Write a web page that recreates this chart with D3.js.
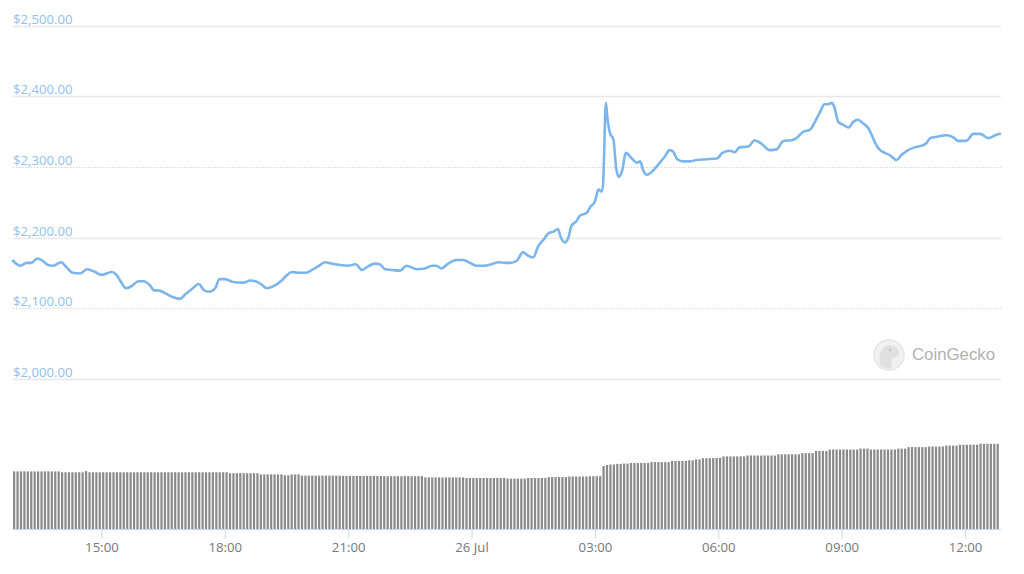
<!DOCTYPE html>
<html>
<head>
<meta charset="utf-8">
<script src="https://cdn.jsdelivr.net/npm/d3@7/dist/d3.min.js"></script>
<style>
  html, body { margin: 0; padding: 0; background: #ffffff; }
  svg { display: block; }
</style>
</head>
<body>
<svg id="chart" width="1024" height="574"></svg>
<script>
// ---- DATA ----
// Minutes since 25 Jul 12:51 for each sampled price point
const priceMinutes = [
  0, 11, 20, 27, 35, 42, 51, 59, 70, 78, 87, 98, 108, 120, 129, 144, 151, 157, 165, 173,
  183, 191, 199, 206, 212, 222, 232, 244, 251, 261, 271, 278, 286, 295, 301, 309, 321, 336, 346, 356,
  363, 370, 380, 392, 399, 407, 416, 428, 436, 445, 455, 465, 477, 489, 500, 509, 518, 528, 535, 543,
  552, 565, 574, 589, 601, 611, 618, 625, 635, 647, 657, 667, 676, 686, 698, 708, 718, 725, 735, 744,
  752, 759, 766, 774, 783, 788, 795, 799, 805, 810, 815, 822, 827, 837, 842, 849, 854, 859, 861, 865,
  867, 871, 876, 880, 884, 889, 894, 903, 910, 915, 920, 925, 934, 941, 951, 958, 963, 969, 978, 988,
  997, 1012, 1027, 1035, 1046, 1053, 1060, 1073, 1082, 1092, 1104, 1114, 1124, 1136, 1143, 1153, 1163, 1170, 1177, 1184,
  1189, 1194, 1198, 1204, 1211, 1219, 1226, 1233, 1240, 1248, 1253, 1258, 1265, 1272, 1279, 1289, 1296, 1306, 1316, 1328,
  1333, 1338, 1348, 1362, 1372, 1379, 1391, 1401, 1411, 1423, 1433, 1440
];
// Price in USD
const priceValues = [
  2167, 2160, 2164, 2164, 2170, 2168, 2161, 2160, 2165, 2158, 2150, 2149, 2155, 2151, 2147, 2151, 2147, 2138, 2128, 2131,
  2138, 2138, 2133, 2125, 2125, 2121, 2116, 2113, 2119, 2127, 2134, 2126, 2123, 2128, 2141, 2141, 2137, 2136, 2139, 2137,
  2133, 2128, 2131, 2139, 2146, 2151, 2150, 2150, 2154, 2159, 2165, 2163, 2161, 2160, 2162, 2154, 2159, 2163, 2162, 2155,
  2154, 2153, 2160, 2155, 2156, 2160, 2160, 2156, 2163, 2168, 2168, 2164, 2160, 2160, 2162, 2165, 2164, 2164, 2167, 2179,
  2174, 2172, 2187, 2197, 2207, 2208, 2212, 2201, 2193, 2199, 2217, 2223, 2231, 2235, 2243, 2251, 2268, 2265, 2277, 2391,
  2371, 2348, 2339, 2298, 2286, 2296, 2320, 2312, 2306, 2308, 2294, 2289, 2295, 2303, 2315, 2324, 2322, 2311, 2308, 2308,
  2310, 2311, 2312, 2320, 2323, 2321, 2328, 2329, 2338, 2333, 2324, 2325, 2337, 2338, 2341, 2350, 2353, 2364, 2377, 2389,
  2389, 2391, 2386, 2364, 2360, 2356, 2364, 2367, 2362, 2355, 2345, 2334, 2324, 2320, 2317, 2310, 2317, 2324, 2328, 2331,
  2334, 2341, 2343, 2345, 2342, 2337, 2337, 2347, 2347, 2341, 2345, 2347
];
// 24h volume (USD billions), one bar per 5 minutes, 12 per row = 1 hour per row
const volumeValues = [
  19.2, 19.2, 19.2, 19.2, 19.2, 19.2, 19.2, 19.2, 19.2, 19.2, 19.2, 19.2,
  19.2, 19.2, 18.9, 18.9, 18.9, 18.9, 18.9, 18.9, 18.9, 19.3, 18.9, 18.9,
  18.9, 18.9, 18.9, 18.9, 18.9, 18.9, 18.9, 18.9, 18.9, 18.9, 18.9, 18.9,
  18.9, 18.9, 18.9, 18.9, 18.9, 18.9, 18.9, 18.9, 18.9, 18.9, 18.9, 18.9,
  18.9, 18.9, 18.9, 18.9, 18.9, 18.9, 18.9, 18.9, 18.9, 18.9, 18.9, 18.9,
  18.9, 18.9, 18.9, 18.6, 18.6, 18.6, 18.6, 18.6, 18.6, 18.6, 18.6, 18.6,
  18.2, 18.2, 18.2, 18.2, 18.2, 18.2, 18.2, 17.9, 17.9, 18.2, 18.2, 18.2,
  17.8, 17.8, 17.8, 17.8, 17.8, 17.8, 17.8, 17.8, 17.8, 17.8, 17.8, 17.8,
  17.7, 17.7, 17.7, 17.7, 17.7, 17.7, 17.7, 17.7, 17.7, 17.7, 17.7, 17.7,
  17.6, 17.6, 17.6, 17.6, 17.6, 17.6, 17.6, 17.6, 17.6, 17.6, 17.6, 17.6,
  17.2, 17.2, 17.2, 17.2, 17.2, 17.2, 17.2, 17.2, 17.2, 17.2, 17.2, 17.2,
  17.0, 17.0, 17.0, 17.0, 17.0, 17.0, 17.0, 17.0, 17.0, 17.0, 17.0, 17.0,
  16.8, 16.8, 16.8, 16.8, 16.8, 16.8, 17.0, 17.0, 17.0, 17.0, 17.0, 17.0,
  17.3, 17.3, 17.3, 17.3, 17.3, 17.3, 17.5, 17.5, 17.5, 17.5, 17.5, 17.5,
  17.6, 17.6, 17.6, 17.6, 21.0, 21.3, 21.5, 21.5, 21.7, 21.7, 21.8, 21.8,
  22.0, 22.0, 22.0, 22.0, 22.0, 22.0, 22.3, 22.3, 22.3, 22.3, 22.3, 22.3,
  22.7, 22.7, 22.7, 22.7, 22.7, 22.9, 22.9, 23.2, 23.2, 23.6, 23.6, 23.6,
  23.7, 23.7, 23.7, 24.2, 24.2, 24.2, 24.2, 24.2, 24.2, 24.2, 24.5, 24.5,
  24.5, 24.5, 24.5, 24.5, 24.5, 24.5, 24.5, 24.9, 24.9, 24.9, 24.9, 24.9,
  24.9, 24.9, 25.3, 25.3, 25.3, 25.3, 26.0, 26.0, 26.0, 26.0, 26.5, 26.5,
  26.5, 26.5, 26.5, 26.5, 26.5, 26.5, 26.5, 26.8, 26.8, 26.8, 26.5, 26.5,
  26.5, 26.5, 26.5, 26.5, 26.5, 26.5, 26.8, 26.8, 26.8, 27.3, 27.3, 27.3,
  27.3, 27.3, 27.3, 27.5, 27.5, 27.5, 27.5, 27.5, 27.8, 27.8, 27.8, 27.8,
  28.1, 28.1, 28.1, 28.1, 28.1, 28.1, 28.4, 28.4, 28.4, 28.4, 28.4, 28.4
];
const yTickValues = [2000, 2100, 2200, 2300, 2400, 2500];
const dottedGrid = [2100, 2300];
const startTime = new Date(2021, 6, 25, 12, 51);
const volumeStepMinutes = 5;
const watermarkText = "CoinGecko";

// ---- CHART ----
const svg = d3.select("#chart");
const plotLeft = 13, plotRight = 1000;
const priceTop = 26, priceBottom = 378.5;
const volBottom = 529;

const minute = 60000;
const endTime = new Date(+startTime + 1440 * minute);

const x = d3.scaleTime().domain([startTime, endTime]).range([plotLeft, plotRight]);
const y = d3.scaleLinear().domain([2000, 2500]).range([priceBottom, priceTop]);
const yVol = d3.scaleLinear().domain([0, 30]).range([volBottom, volBottom - 90]);

// grid lines + y labels
const fmtPrice = d3.format("$,.2f");
const grid = svg.append("g");
yTickValues.forEach(v => {
  const yy = Math.round(y(v)) + 0.5;
  const dotted = dottedGrid.includes(v);
  grid.append("line")
    .attr("x1", plotLeft).attr("x2", plotRight + 1)
    .attr("y1", yy).attr("y2", yy)
    .attr("stroke", dotted ? "#d6d6d6" : "#e8e8e8")
    .attr("stroke-width", dotted ? 1 : 1.6)
    .attr("stroke-dasharray", dotted ? "1.5,1.5" : null);
  grid.append("text")
    .attr("x", plotLeft).attr("y", yy - 2.5)
    .attr("font-family", "'Open Sans', 'Liberation Sans', sans-serif")
    .attr("font-size", 13.2)
    .attr("fill", "#93c0ec")
    .text(fmtPrice(v));
});

// watermark
const wm = svg.append("g").attr("transform", "translate(889,355)");
wm.append("circle").attr("r", 15).attr("fill", "#f1f1f1").attr("stroke", "#e6e6e6").attr("stroke-width", 1.5);
wm.append("path")
  .attr("d", "M-9,10 C-11,0 -8,-9 0,-10 C6,-10 10,-6 10,-2 C10,2 6,3 3,3 C2,6 2,9 3,13 C-2,14 -6,13 -9,10 Z")
  .attr("fill", "#e0e0e0");
wm.append("circle").attr("cx", 1).attr("cy", -5).attr("r", 1.6).attr("fill", "#c8c8c8");
svg.append("text")
  .attr("x", 912).attr("y", 360)
  .attr("font-family", "'Liberation Sans', Arial, sans-serif")
  .attr("font-size", 16.8)
  .attr("fill", "#b0b0b0")
  .text(watermarkText);

// volume bars
const volData = volumeValues.map((v, i) => ({ t: new Date(+startTime + i * volumeStepMinutes * minute), v }));
const barW = x(new Date(+startTime + volumeStepMinutes * minute)) - x(startTime);
svg.append("g").selectAll("rect").data(volData).join("rect")
  .attr("x", d => x(d.t))
  .attr("y", d => yVol(d.v))
  .attr("width", barW - 1.2)
  .attr("height", d => volBottom - yVol(d.v))
  .attr("fill", "#8a8a8a");

// x axis
const xAxis = d3.axisBottom(x)
  .ticks(d3.timeHour.every(3))
  .tickSize(9)
  .tickFormat(d => (d.getHours() === 0 ? d3.timeFormat("%-d %b")(d) : d3.timeFormat("%H:%M")(d)));
const gx = svg.append("g").attr("transform", `translate(0,${volBottom + 0.5})`).call(xAxis);
gx.select(".domain").attr("stroke", "#ccd6eb").attr("d", `M${plotLeft},0H${plotRight + 1}`);
gx.selectAll(".tick line").attr("stroke", "#ccd6eb");
gx.selectAll(".tick text")
  .attr("dy", "1.0em")
  .attr("y", 9)
  .attr("font-family", "'Open Sans', 'Liberation Sans', sans-serif")
  .attr("font-size", 13.2)
  .attr("fill", "#777777");

// price line
const priceData = priceMinutes.map((m, i) => ({ t: new Date(+startTime + m * minute), v: priceValues[i] }));
const line = d3.line().x(d => x(d.t)).y(d => y(d.v)).curve(d3.curveMonotoneX);
svg.append("path")
  .datum(priceData)
  .attr("d", line)
  .attr("fill", "none")
  .attr("stroke", "#7cb5ec")
  .attr("stroke-width", 2.6)
  .attr("stroke-linejoin", "round")
  .attr("stroke-linecap", "round");
</script>
</body>
</html>
